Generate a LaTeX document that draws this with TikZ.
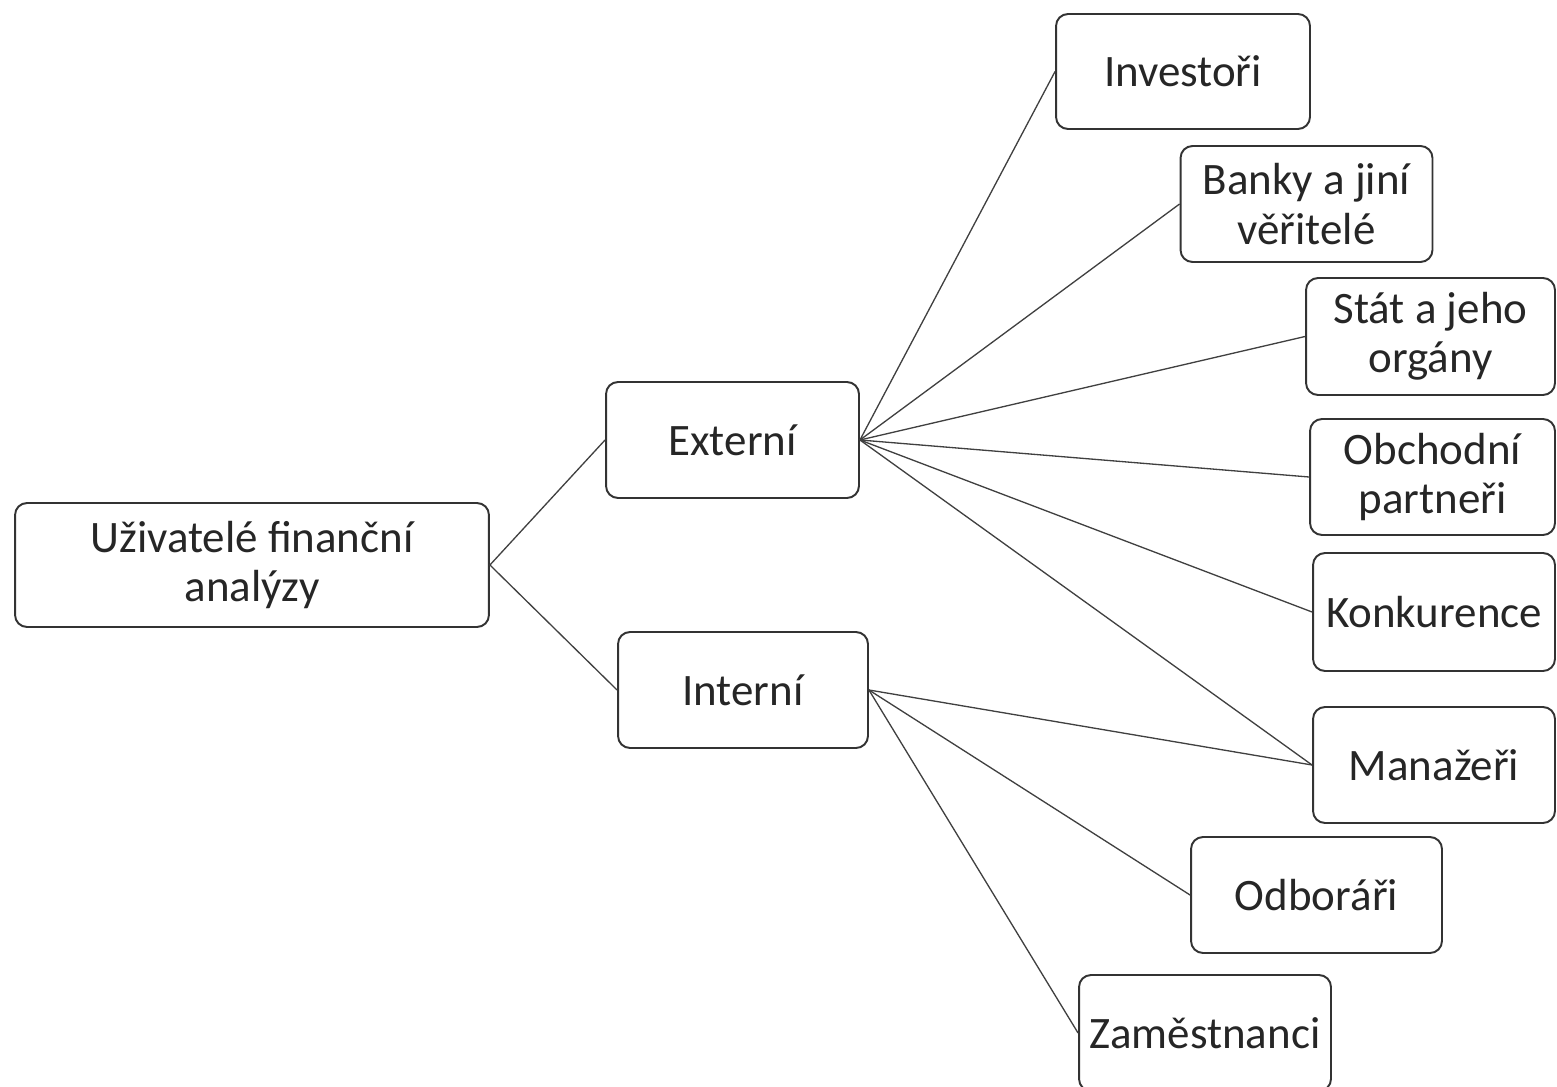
\documentclass[tikz,border=0pt]{standalone}
\usepackage{fontspec}
\setmainfont{Carlito}
\usetikzlibrary{positioning}

\begin{document}
\begin{tikzpicture}[
    x=0.02cm, y=-0.02cm,
    box/.style={draw=black!80, line width=1.1pt, rounded corners=0.24cm, minimum width=5.04cm, minimum height=2.32cm, align=center, inner sep=2pt, text=black!85, font=\fontsize{25.6}{28}\selectfont},
    link/.style={black!75, line width=0.75pt}
]
\useasboundingbox (0,0) rectangle (1557,1087);

\node[box, minimum width=9.48cm, minimum height=2.48cm] (users) at (252,565) {Uživatelé finanční\\analýzy};
\node[box, minimum width=5.06cm] (ext) at (732.5,440) {Externí};
\node[box, minimum width=5.0cm] (int) at (743,690) {Interní};

\node[box, minimum width=5.08cm, minimum height=2.3cm] (inv) at (1183,71.5) {Investoři};
\node[box] (bank) at (1306.5,204) {Banky a jiní\\věřitelé};
\node[box, minimum width=4.98cm, minimum height=2.34cm] (stat) at (1430.5,336.5) {Stát a jeho\\orgány};
\node[box, minimum width=4.9cm] (obch) at (1432.5,477) {Obchodní\\partneři};
\node[box, minimum width=4.84cm, minimum height=2.36cm] (konk) at (1434,612) {Konkurence};
\node[box, minimum width=4.84cm] (man) at (1434,765) {Manažeři};
\node[box, minimum width=5.02cm] (odb) at (1316.5,895) {Odboráři};
\node[box] (zam) at (1205,1033) {Zaměstnanci};

\draw[link] (users.east) -- (ext.west);
\draw[link] (users.east) -- (int.west);

\foreach \t in {inv,bank,stat,obch,konk,man}
    \draw[link] (ext.east) -- (\t.west);
\foreach \t in {man,odb,zam}
    \draw[link] (int.east) -- (\t.west);
\end{tikzpicture}
\end{document}
